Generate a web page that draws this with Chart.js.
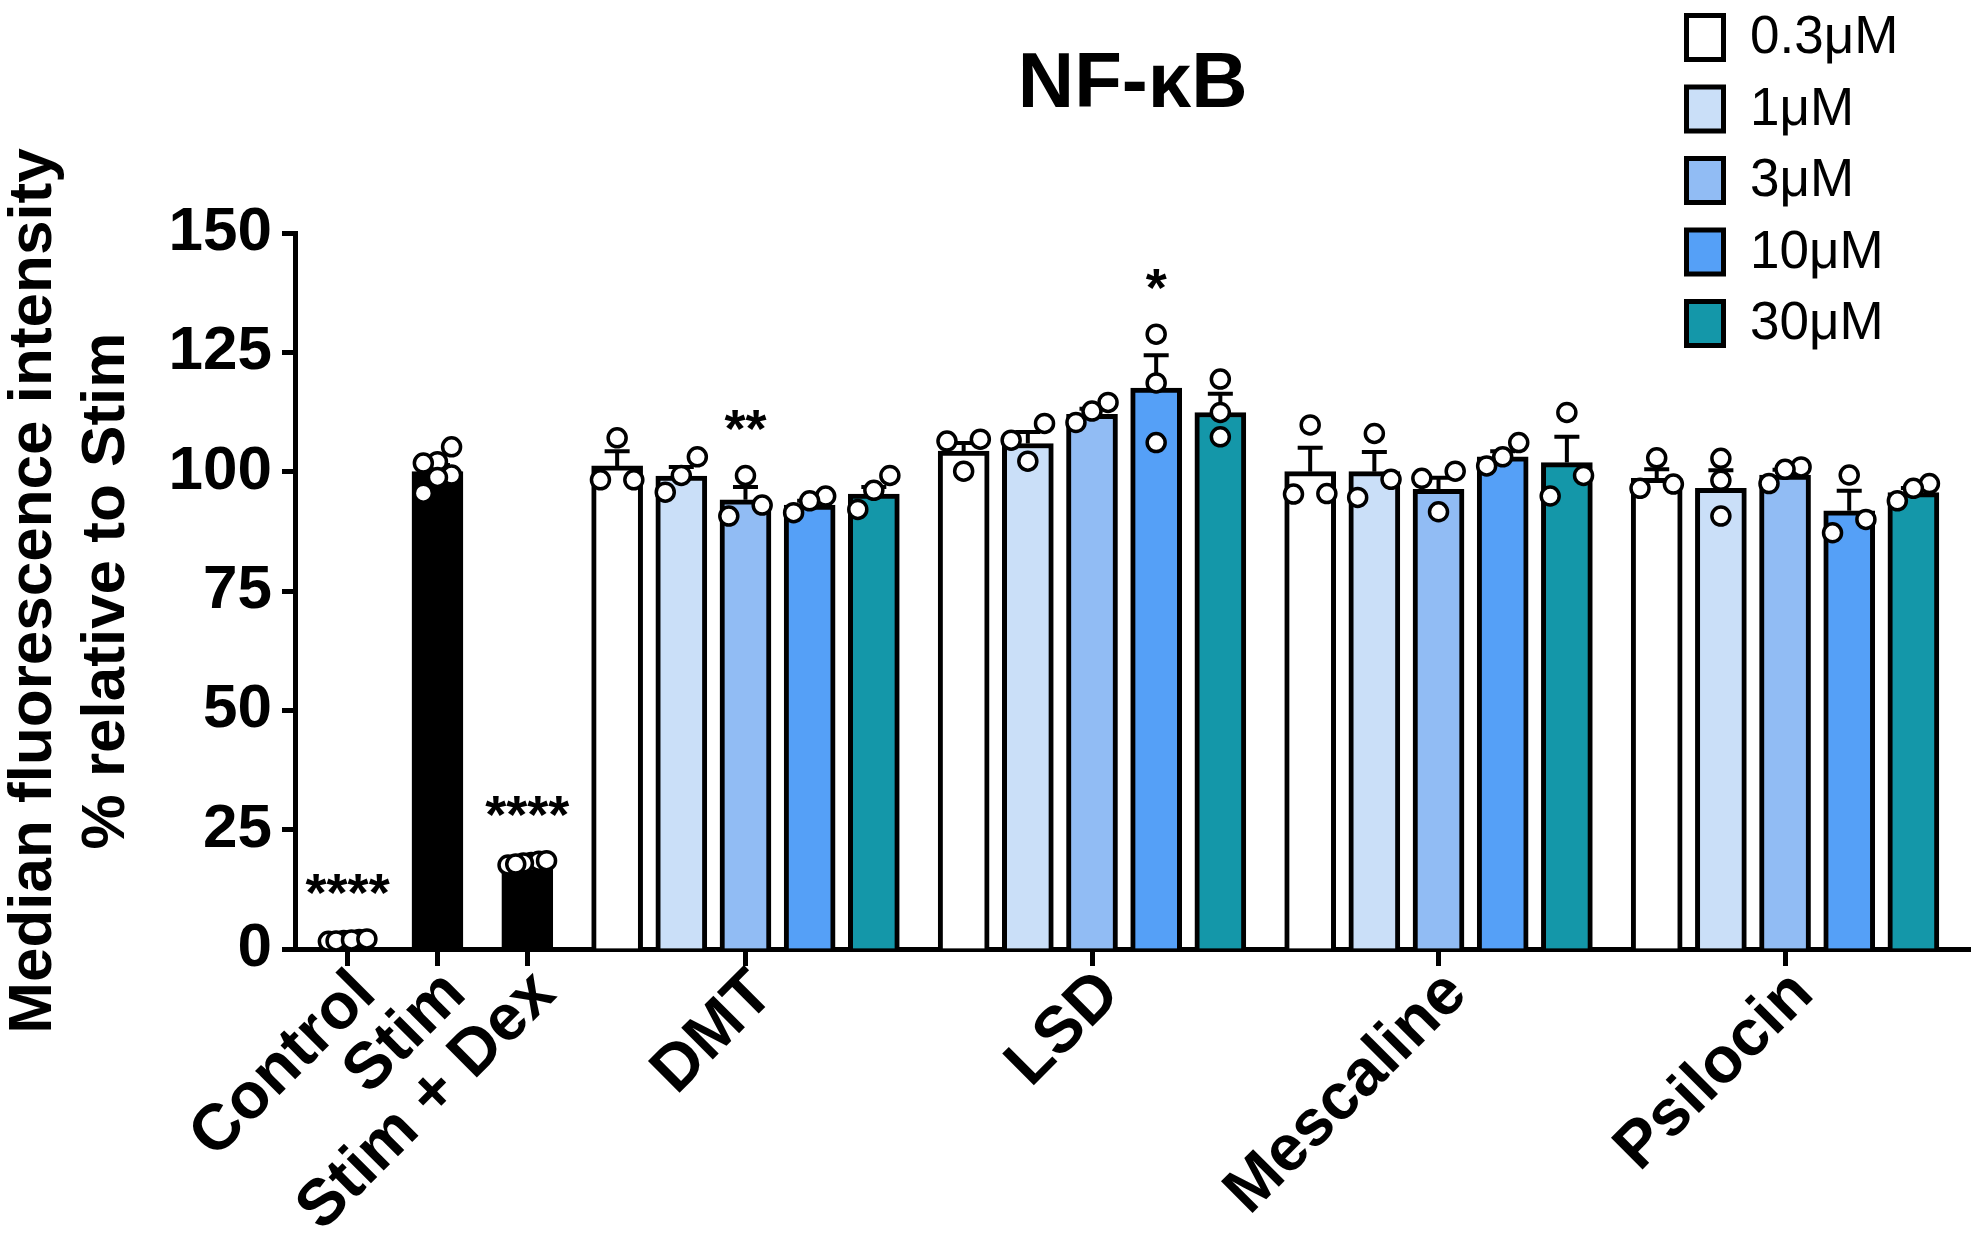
<!DOCTYPE html>
<html>
<head>
<meta charset="utf-8">
<title>NF-κB</title>
<script src="https://cdn.jsdelivr.net/npm/chart.js@4.4.1/dist/chart.umd.min.js"></script>
<style>
  html, body { margin: 0; padding: 0; background: #fff; }
  #chart { display: block; }
</style>
</head>
<body>
<canvas id="chart" width="1983" height="1234"></canvas>
<script>
// values, % relative to Stim
const controlLabels = ['Control', 'Stim', 'Stim + Dex'];
const controlMeans = [1.8, 100.0, 18.0];
const controlSem = [0.1, 1.4, 0.3];
const controlPoints = [
    [1.6, 1.8, 2.0, 1.7, 1.9, 2.1],
    [105.2, 102.1, 101.8, 99.3, 98.8, 95.5],
    [18.1, 17.6, 18.4, 18.0, 17.8, 18.5]
];
const controlStars = ['****', '', '****'];

const drugLabels = ['DMT', 'LSD', 'Mescaline', 'Psilocin'];
const doseLabels = ['0.3μM', '1μM', '3μM', '10μM', '30μM'];
const doseColors = ['#ffffff', '#cadff8', '#91bcf4', '#55a0f7', '#1497a9'];

const dmtMeans = [101.2, 99.1, 94.1, 93.0, 95.3];
const dmtSem = [3.1, 1.9, 2.7, 0.9, 1.5];
const dmtPoints = [[107.1, 98.3, 98.3], [103.1, 99.2, 95.7], [99.2, 93.0, 90.7], [94.9, 93.9, 91.4], [99.2, 96.1, 92.1]];
const dmtStars = ['', '', '**', '', ''];

const lsdMeans = [104.3, 105.9, 112.0, 117.5, 112.4];
const lsdSem = [1.7, 2.4, 1.2, 6.9, 3.9];
const lsdPoints = [[106.8, 106.4, 100.1], [110.1, 106.6, 102.2], [110.3, 114.5, 112.7], [128.8, 118.6, 106.1], [119.4, 112.4, 107.3]];
const lsdStars = ['', '', '', '*', ''];

const mescalineMeans = [100.0, 100.0, 96.3, 103.1, 101.9];
const mescalineSem = [5.0, 4.1, 2.4, 1.2, 5.4];
const mescalinePoints = [[109.8, 95.3, 95.4], [108.0, 98.4, 94.6], [100.1, 98.6, 91.6], [106.1, 103.1, 101.2], [112.4, 99.2, 94.9]];
const mescalineStars = ['', '', '', '', ''];

const psilocinMeans = [98.6, 96.5, 99.3, 91.8, 95.6];
const psilocinSem = [1.9, 3.8, 1.1, 4.2, 1.0];
const psilocinPoints = [[102.9, 96.5, 97.4], [102.8, 98.2, 90.7], [97.5, 101.0, 100.5], [99.3, 90.0, 87.2], [93.9, 97.5, 96.5]];
const psilocinStars = ['', '', '', '', ''];

const yTicks = [0, 25, 50, 75, 100, 125, 150];

const drugMeans = [dmtMeans, lsdMeans, mescalineMeans, psilocinMeans];
const drugSem = [dmtSem, lsdSem, mescalineSem, psilocinSem];
const drugPoints = [dmtPoints, lsdPoints, mescalinePoints, psilocinPoints];
const drugStars = [dmtStars, lsdStars, mescalineStars, psilocinStars];

const FONT = '"Liberation Sans", Arial, sans-serif';

// x positions in bar widths: single bars 1.4 apart, groups of five bars with a 1.4 gap
const controlX = controlLabels.map((_, i) => i * 1.4);
const drugCenterX = drugLabels.map((_, d) => 6.2 + d * 5.4);
function doseX(d, k){
    return drugCenterX[d] + (k - 2);
}
const tickValues = controlX.concat(drugCenterX);
const tickNames = controlLabels.concat(drugLabels);

// GraphPad style scatter: overlapping points get pushed sideways
function spread(values){
    const idx = values.map((v, i) => i).sort((a, b) => values[a] - values[b]);
    const offsets = values.map(() => 0);
    let group = [idx[0]];
    const flush = () => {
        const k = group.length;
        const range = values[group[k - 1]] - values[group[0]];
        group.forEach((j, n) => {
            if(k === 2) offsets[j] = n === 0 ? -0.26 : 0.26;
            else if(k === 3) offsets[j] = (n - 1) * 0.25;
            else if(k > 3 && range < 2) offsets[j] = -0.3 + 0.6 * n / (k - 1);
            else if(k > 3) offsets[j] = [-0.22, 0, 0.22][n % 3];
        });
    };
    for(let n = 1; n < idx.length; n++){
        if(values[idx[n]] - values[idx[n - 1]] < 4.3) group.push(idx[n]);
        else { flush(); group = [idx[n]]; }
    }
    flush();
    return offsets;
}

const scatterData = [];
const starMarks = [];
function addPoints(x, values, star){
    const off = spread(values);
    values.forEach((v, i) => scatterData.push({x: x + off[i], y: v}));
    if(star) starMarks.push({x: x, y: Math.max(...values) + 10.5, text: star});
}
controlPoints.forEach((vals, i) => addPoints(controlX[i], vals, controlStars[i]));
drugLabels.forEach((_, d) => {
    drugPoints[d].forEach((vals, k) => addPoints(doseX(d, k), vals, drugStars[d][k]));
});

const barBase = {
    type: 'bar',
    borderColor: '#000',
    borderWidth: 5,
    barThickness: 51,
    grouped: false,
    order: 1,
    clip: false
};

const datasets = [{
    type: 'scatter',
    label: 'points',
    data: scatterData,
    pointRadius: 9,
    pointHoverRadius: 9,
    pointBorderWidth: 3.5,
    pointBackgroundColor: '#fff',
    pointBorderColor: '#000',
    order: 0,
    clip: false
}, {
    ...barBase,
    label: 'controls',
    data: controlLabels.map((_, i) => ({x: controlX[i], y: controlMeans[i]})),
    sem: controlSem,
    backgroundColor: '#000'
}];
doseLabels.forEach((dose, k) => {
    datasets.push({
        ...barBase,
        label: dose,
        data: drugLabels.map((_, d) => ({x: doseX(d, k), y: drugMeans[d][k]})),
        sem: drugLabels.map((_, d) => drugSem[d][k]),
        backgroundColor: doseColors[k]
    });
});

const extras = {
    id: 'extras',
    afterDatasetDraw(chart, args){
        const ds = chart.data.datasets[args.index];
        if(!ds.sem) return;
        const {ctx} = chart;
        const x = chart.scales.x, y = chart.scales.y;
        ctx.save();
        ctx.strokeStyle = '#000';
        ctx.lineWidth = 4;
        ds.data.forEach((p, i) => {
            const px = x.getPixelForValue(p.x);
            const top = y.getPixelForValue(p.y);
            const end = y.getPixelForValue(p.y + ds.sem[i]);
            ctx.beginPath();
            ctx.moveTo(px, top);
            ctx.lineTo(px, end);
            ctx.moveTo(px - 12.5, end);
            ctx.lineTo(px + 12.5, end);
            ctx.stroke();
        });
        ctx.restore();
    },
    afterDatasetsDraw(chart){
        const {ctx} = chart;
        const x = chart.scales.x, y = chart.scales.y;
        ctx.save();
        ctx.fillStyle = '#000';
        ctx.font = 'bold 54px ' + FONT;
        ctx.textAlign = 'center';
        ctx.textBaseline = 'alphabetic';
        starMarks.forEach(s => {
            ctx.fillText(s.text, x.getPixelForValue(s.x), y.getPixelForValue(s.y) + 22);
        });
        ctx.restore();
    },
    afterDraw(chart){
        const {ctx} = chart;
        ctx.save();
        ctx.font = '53px ' + FONT;
        ctx.textBaseline = 'middle';
        ctx.textAlign = 'left';
        doseLabels.forEach((dose, k) => {
            const top = 13 + k * 71.5;
            ctx.fillStyle = doseColors[k];
            ctx.fillRect(1686.5, top + 2.5, 37, 44);
            ctx.strokeStyle = '#000';
            ctx.lineWidth = 5;
            ctx.strokeRect(1686.5, top + 2.5, 37, 44);
            ctx.fillStyle = '#000';
            ctx.fillText(dose, 1750, top + 25.5);
        });
        ctx.restore();
    }
};

const chart = new Chart(document.getElementById('chart'), {
    type: 'bar',
    data: {datasets: datasets},
    plugins: [extras],
    options: {
        responsive: false,
        animation: false,
        devicePixelRatio: 1,
        layout: {padding: {left: 0, right: 9, top: 0, bottom: 0}},
        plugins: {
            legend: {display: false},
            tooltip: {enabled: false},
            title: {
                display: true,
                text: 'NF-κB',
                color: '#000',
                fullSize: false,
                font: {family: FONT, size: 78, weight: 'bold', lineHeight: 1.2},
                padding: {top: 39, bottom: 100.4}
            }
        },
        scales: {
            x: {
                type: 'linear',
                bounds: 'data',
                min: -0.82,
                max: 25.29,
                offset: false,
                afterBuildTicks: scale => {
                    scale.ticks = tickValues.map(v => ({value: v}));
                },
                afterFit: scale => {
                    scale.height = 285;
                },
                grid: {
                    display: true,
                    drawOnChartArea: false,
                    offset: false,
                    tickLength: 17,
                    tickWidth: 5,
                    tickColor: '#000'
                },
                border: {display: true, color: '#000', width: 5},
                ticks: {
                    autoSkip: false,
                    minRotation: 45,
                    maxRotation: 45,
                    padding: -10,
                    labelOffset: 18,
                    color: '#000',
                    font: {family: FONT, size: 65, weight: 'bold'},
                    callback: (v, i) => tickNames[i]
                }
            },
            y: {
                type: 'linear',
                min: 0,
                max: 150,
                afterFit: scale => {
                    scale.width = 295;
                },
                grid: {
                    display: true,
                    drawOnChartArea: false,
                    tickLength: 13,
                    tickWidth: 5,
                    tickColor: '#000'
                },
                border: {display: true, color: '#000', width: 5},
                ticks: {
                    stepSize: 12.5,
                    padding: 10,
                    color: '#000',
                    font: {family: FONT, size: 62, weight: 'bold'},
                    callback: v => (yTicks.includes(v) ? v : '')
                },
                title: {
                    display: true,
                    text: ['Median fluorescence intensity', '% relative to Stim'],
                    color: '#000',
                    font: {family: FONT, size: 62, weight: 'bold', lineHeight: 1.18},
                    padding: {top: -3, bottom: 0}
                }
            }
        }
    }
});
</script>
</body>
</html>
